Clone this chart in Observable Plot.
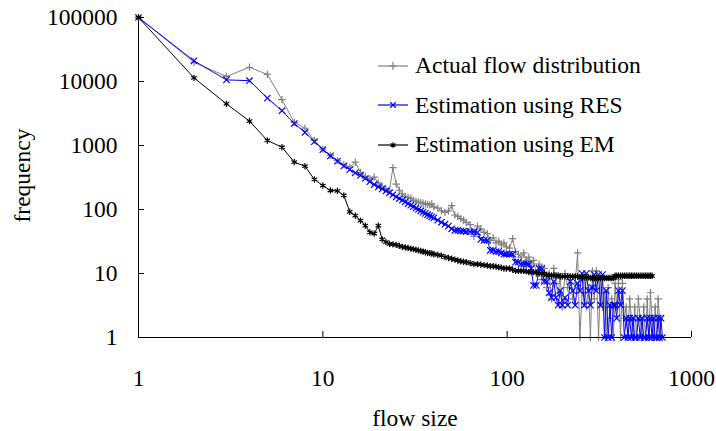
<!DOCTYPE html>
<html><head><meta charset="utf-8">
<script src="https://cdn.jsdelivr.net/npm/d3@7"></script>
<script src="https://cdn.jsdelivr.net/npm/@observablehq/plot@0.6"></script>
<style>
body{margin:0;background:#fff;}
#wrap{position:relative;width:716px;height:431px;font-family:"Liberation Serif","Times New Roman",serif;}
#legend{position:absolute;left:378px;top:46px;font-size:23.5px;color:#000;}
.row{display:flex;align-items:center;height:39.5px;white-space:nowrap;}
.row svg{margin-right:7px;display:block;}
</style></head><body>
<div id="wrap"><div id="legend"></div></div>
<script>
const flowSize = [1,2,3,4,5,6,7,8,9,10,
 11,12,13,14,15,16,17,18,19,20,
 21,22,23,24,25,26,27,28,29,30,
 31,32,33,34,35,36,37,38,39,40,
 42,44,46,48,50,52,54,56,58,60,
 63,66,69,72,75,78,81,84,87,90,93,96,99,
 103,107,111,115,119,123,127,131,135,139,
 144,149,154,159,164,169,174,179,184,189,194,199,
 206,213,220,227,234,241,248,255,262,269,276,283,290,297,
 305,313,321,329,337,345,353,361,369,377,385,393,
 402,412,422,432,442,452,462,472,482,492,
 503,515,527,539,551,563,575,587,599,611,623,635,647,659,671,683,695,707];

const actual = [100000,20000,12000,16700,12900,5200,2300,1860,1200,880,
 700,580,500,460,550,380,330,300,320,260,
 230,210,200,450,250,200,175,160,155,150,
 140,135,130,128,125,122,120,118,122,110,
 105,95,90,95,115,82,78,72,68,63,
 58,38,55,50,44,42,33,36,30,32,28,30,26,
 25,35,22,20,18,21,16,18,14,16,
 10,14,8,12,6,10,4,12,7,5,9,3,
 10,6,8,4,7,21,1,5,9,3,6,1,11,4,
 11,1,8,3,5,1,6,2,4,1,7,3,
 8,1,7,2,3,1,4,2,1,3,
 1,4,2,1,3,1,4,1,5,2,1,3,1,4,2,1,null,null];

const res = [100000,21000,10600,10300,5500,3500,2200,1600,1150,860,
 690,570,480,420,375,340,305,272,245,225,
 210,195,182,170,158,148,140,132,124,117,
 111,105,100,95,91,87,83,80,77,74,
 68,63,59,55,50,47,47,46,46,45,
 45,45,44,34,33,33,23,23,22,22,21,20,20,
 20,20,15,15,14,14,14,14,12,6.5,
 6.5,12,12,7.5,7.5,5,4.2,7.5,4.2,3.2,5.4,3.2,
 4.2,3.2,7.5,5.4,3.2,7,5.4,10,3.2,10,5.4,3.2,6,9.6,
 5.4,9.6,3.2,9.6,1,5.4,1,3.2,1,3.2,3.2,2,
 5.4,3.2,5.4,1,2,1,2,1,2,1,
 1,2,1,2,1,1,2,1,2,1,2,1,1,2,1,2,1,null];

const em = [100000,11400,4470,2410,1200,940,550,475,295,237,
 198,196,166,92,80,67,56,44,42,56,
 34,31,29,28.5,28,27,26,25.5,25,24.5,
 24,23.5,23,22.5,22,21.5,21,20.8,20.5,20,
 19.5,19,18,17.5,17,16.5,16,15.5,15.3,15,
 14.5,14,14,13.8,13.5,13.3,13,13,12.8,12.5,12.3,12,12,
 12,11.5,11,11,11,11,10.8,10.5,10.5,10.5,
 10.3,10,10,10,9.5,9.3,9.3,9.3,9.3,9.3,9,9,
 9,9,9,9,9,9,8.7,8.7,8.7,8.7,8.7,8.5,8.5,8.5,
 8.5,8.5,8.5,8.5,8.5,8.5,8.5,8.5,8.5,8.5,9.2,9.2,
 9.2,9.2,9.2,9.2,9.2,9.2,9.2,9.2,9.2,9.2,
 9.2,9.2,9.2,9.2,9.2,9.2,9.2,9.2,9.2,9.2,null,null,null,null,null,null,null,null];

const xTicks = [1, 10, 100, 1000];
const yTicks = [1, 10, 100, 1000, 10000, 100000];
const seriesNames = ["Actual flow distribution", "Estimation using RES", "Estimation using EM"];
const seriesColors = ["#808080", "#0000ff", "#000000"];
const seriesSymbols = ["plus", "times", "asterisk"];
const seriesValues = [actual, res, em];

const tables = seriesValues.map(vals =>
  flowSize.map((x, i) => ({x, y: vals[i]})).filter(d => d.y != null));

const marks = [];
tables.forEach((t, k) => {
  marks.push(Plot.line(t, {x: "x", y: "y", stroke: seriesColors[k], strokeWidth: 1}));
  marks.push(Plot.dot(t, {x: "x", y: "y", symbol: seriesSymbols[k], stroke: seriesColors[k],
    r: k === 0 ? 2.5 : 3, strokeWidth: 1.2}));
});

const chart = Plot.plot({
  width: 716, height: 431,
  marginLeft: 138, marginRight: 25, marginTop: 17, marginBottom: 94,
  style: {fontFamily: "'Liberation Serif','Times New Roman',serif", fontSize: "23px", background: "#fff", color: "#000", overflow: "visible"},
  x: {type: "log", domain: [1, 1000]},
  y: {type: "log", domain: [1, 100000]},
  marks: [
    ...marks,
    Plot.ruleX([1], {stroke: "#000"}),
    Plot.ruleY([1], {stroke: "#000"}),
    Plot.axisX(xTicks, {tickSize: -6, tickPadding: 38, tickFormat: d => String(d), label: null, fontSize: 23.5}),
    Plot.axisY(yTicks, {tickSize: -6, tickPadding: 27, tickFormat: d => String(d), label: null, fontSize: 23.5}),
    Plot.text(["flow size"], {frameAnchor: "bottom", dy: 88, fontSize: 23.5}),
    Plot.text(["frequency"], {frameAnchor: "left", textAnchor: "middle", dx: -116, dy: -2, rotate: -90, fontSize: 23.5})
  ]
});
document.getElementById("wrap").prepend(chart);

const legend = d3.select("#legend");
seriesNames.forEach((name, k) => {
  const row = legend.append("div").attr("class", "row");
  const svg = row.append("svg").attr("width", 30).attr("height", 12);
  svg.append("line").attr("x1", 0).attr("x2", 30).attr("y1", 6).attr("y2", 6)
    .attr("stroke", seriesColors[k]).attr("stroke-width", 1.2);
  const sym = [d3.symbolPlus, d3.symbolTimes, d3.symbolAsterisk][k];
  svg.append("path").attr("d", d3.symbol(sym, 22)()).attr("transform", "translate(15,6)")
    .attr("fill", "none").attr("stroke", seriesColors[k]).attr("stroke-width", 1.2);
  row.append("span").text(name);
});
</script>
</body></html>
